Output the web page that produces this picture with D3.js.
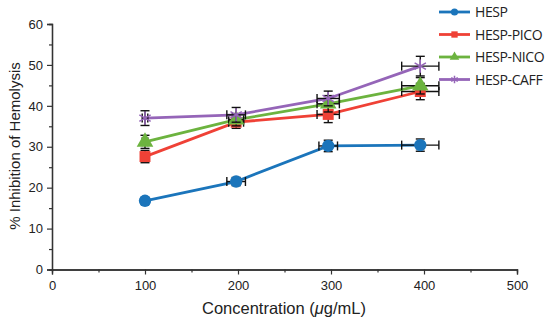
<!DOCTYPE html>
<html>
<head>
<meta charset="utf-8">
<script src="https://cdn.jsdelivr.net/npm/d3@7"></script>
<style>
  body { margin: 0; background: #fff; }
  text { font-family: "Liberation Sans", Arial, sans-serif; fill: #222; }
</style>
</head>
<body>
<svg id="svg" width="550" height="324"></svg>
<script>
(function() {

    const svg = d3.select('#svg')
    const marginLeft = 52, marginTop = 24, plotW = 465, plotH = 245.5

    // data
    const concentrations = [100, 198, 297, 396]
    const seriesNames = ['HESP', 'HESP-PICO', 'HESP-NICO', 'HESP-CAFF']
    const hesp = [16.8, 21.5, 30.2, 30.4]
    const hespPico = [27.6, 36.0, 37.9, 43.5]
    const hespNico = [31.2, 36.6, 40.5, 44.9]
    const hespCaff = [37.0, 37.8, 41.8, 49.7]
    const yErr = [
        [0.8, 1.0, 1.4, 1.5],
        [1.5, 1.5, 2.0, 2.0],
        [1.6, 1.5, 2.0, 2.0],
        [1.8, 1.8, 1.8, 2.4]
    ]
    const xErr = [
        [3, 10, 10, 20],
        [3, 8, 12, 20],
        [3, 8, 12, 20],
        [3, 10, 12, 20]
    ]
    const xTicks = [0, 100, 200, 300, 400, 500]
    const yTicks = [0, 10, 20, 30, 40, 50, 60]

    const colors = ['#1b75bb', '#ef4136', '#6cb33f', '#9565b8']
    const shapes = ['diamond', 'square', 'triangle', 'star']
    const values = [hesp, hespPico, hespNico, hespCaff]

    const x = d3.scaleLinear().domain([0, 500]).range([marginLeft, marginLeft + plotW])
    const y = d3.scaleLinear().domain([0, 60]).range([marginTop + plotH, marginTop])

    // axes
    svg.append('g')
        .attr('transform', 'translate(0,' + y(0) + ')')
        .call(d3.axisBottom(x).tickValues(xTicks).tickSize(5).tickPadding(6))
    svg.append('g')
        .attr('transform', 'translate(0,' + y(0) + ')')
        .call(d3.axisBottom(x).tickValues(d3.range(50, 500, 100)).tickSize(3).tickFormat(''))

    svg.append('g')
        .attr('transform', 'translate(' + x(0) + ',0)')
        .call(d3.axisLeft(y).tickValues(yTicks).tickSize(5).tickPadding(4))
    svg.append('g')
        .attr('transform', 'translate(' + x(0) + ',0)')
        .call(d3.axisLeft(y).tickValues(d3.range(5, 60, 10)).tickSize(3).tickFormat(''))

    svg.selectAll('.domain').style('stroke', '#333').style('stroke-width', 1.3)
    svg.selectAll('.tick line').style('stroke', '#333').style('stroke-width', 1.2)
    svg.selectAll('.tick text').style('font-size', '13px').style('fill', '#222')
        .style('font-family', '"Liberation Sans", Arial, sans-serif')

    // axis titles
    svg.append('text')
        .attr('x', 284)
        .attr('y', 314)
        .attr('text-anchor', 'middle')
        .style('font-size', '16.5px')
        .html('Concentration (<tspan font-style="italic">μ</tspan>g/mL)')

    svg.append('text')
        .attr('transform', 'translate(20,' + 146 + ') rotate(-90)')
        .attr('text-anchor', 'middle')
        .style('font-size', '15px')
        .text('% Inhibition of Hemolysis')

    function marker(g, shape, color, size) {
        if (shape === 'diamond') {
            g.append('path')
                .attr('d', d3.symbol().type(d3.symbolCircle).size(size * 8)())
                .attr('fill', color)
        } else if (shape === 'square') {
            g.append('path')
                .attr('d', d3.symbol().type(d3.symbolSquare).size(size * 8)())
                .attr('fill', color)
        } else if (shape === 'triangle') {
            g.append('path')
                .attr('d', d3.symbol().type(d3.symbolTriangle).size(size * 8)())
                .attr('fill', color)
        } else {
            g.append('path')
                .attr('d', d3.symbol().type(d3.symbolAsterisk).size(size * 8)())
                .attr('fill', 'none')
                .attr('stroke', color)
                .attr('stroke-width', 1.5)
            g.append('path')
                .attr('d', d3.symbol().type(d3.symbolTimes).size(size * 8)())
                .attr('fill', color)
        }
    }

    const line = d3.line()
        .x((d, i) => x(concentrations[i]))
        .y(d => y(d))

    values.forEach((vals, s) => {
        const g = svg.append('g')

        g.append('path')
            .datum(vals)
            .attr('d', line)
            .attr('fill', 'none')
            .attr('stroke', colors[s])
            .attr('stroke-width', 2.8)

        // error bars
        vals.forEach((v, i) => {
            const cx = x(concentrations[i]), cy = y(v)
            const ye = yErr[s][i], xe = xErr[s][i]
            const eb = g.append('g').style('stroke', '#111').style('stroke-width', 1.4)
            eb.append('line')
                .attr('x1', cx).attr('x2', cx)
                .attr('y1', y(v - ye)).attr('y2', y(v + ye))
            eb.append('line')
                .attr('x1', cx - 4.5).attr('x2', cx + 4.5)
                .attr('y1', y(v - ye)).attr('y2', y(v - ye))
            eb.append('line')
                .attr('x1', cx - 4.5).attr('x2', cx + 4.5)
                .attr('y1', y(v + ye)).attr('y2', y(v + ye))
            eb.append('line')
                .attr('x1', x(concentrations[i] - xe)).attr('x2', x(concentrations[i] + xe))
                .attr('y1', cy).attr('y2', cy)
            eb.append('line')
                .attr('x1', x(concentrations[i] - xe)).attr('x2', x(concentrations[i] - xe))
                .attr('y1', cy - 4.5).attr('y2', cy + 4.5)
            eb.append('line')
                .attr('x1', x(concentrations[i] + xe)).attr('x2', x(concentrations[i] + xe))
                .attr('y1', cy - 4.5).attr('y2', cy + 4.5)
        })

        vals.forEach((v, i) => {
            const m = g.append('g')
                .attr('transform', 'translate(' + x(concentrations[i]) + ',' + y(v) + ')')
            marker(m, shapes[s], colors[s], 15)
        })
    })

    // legend
    seriesNames.forEach((name, i) => {
        const ly = 12 + i * 22.5
        svg.append('line')
            .attr('x1', 439).attr('x2', 470)
            .attr('y1', ly).attr('y2', ly)
            .style('stroke', colors[i])
            .style('stroke-width', 2.8)
        const m = svg.append('g').attr('transform', 'translate(454.5,' + ly + ')')
        marker(m, shapes[i], colors[i], 5)
        svg.append('text')
            .attr('x', 475)
            .attr('y', ly + 5)
            .style('font-size', '14px')
            .style('font-family', '"Open Sans", sans-serif')
            .style('letter-spacing', '-0.4px')
            .text(name)
    })

})();
</script>
</body>
</html>
